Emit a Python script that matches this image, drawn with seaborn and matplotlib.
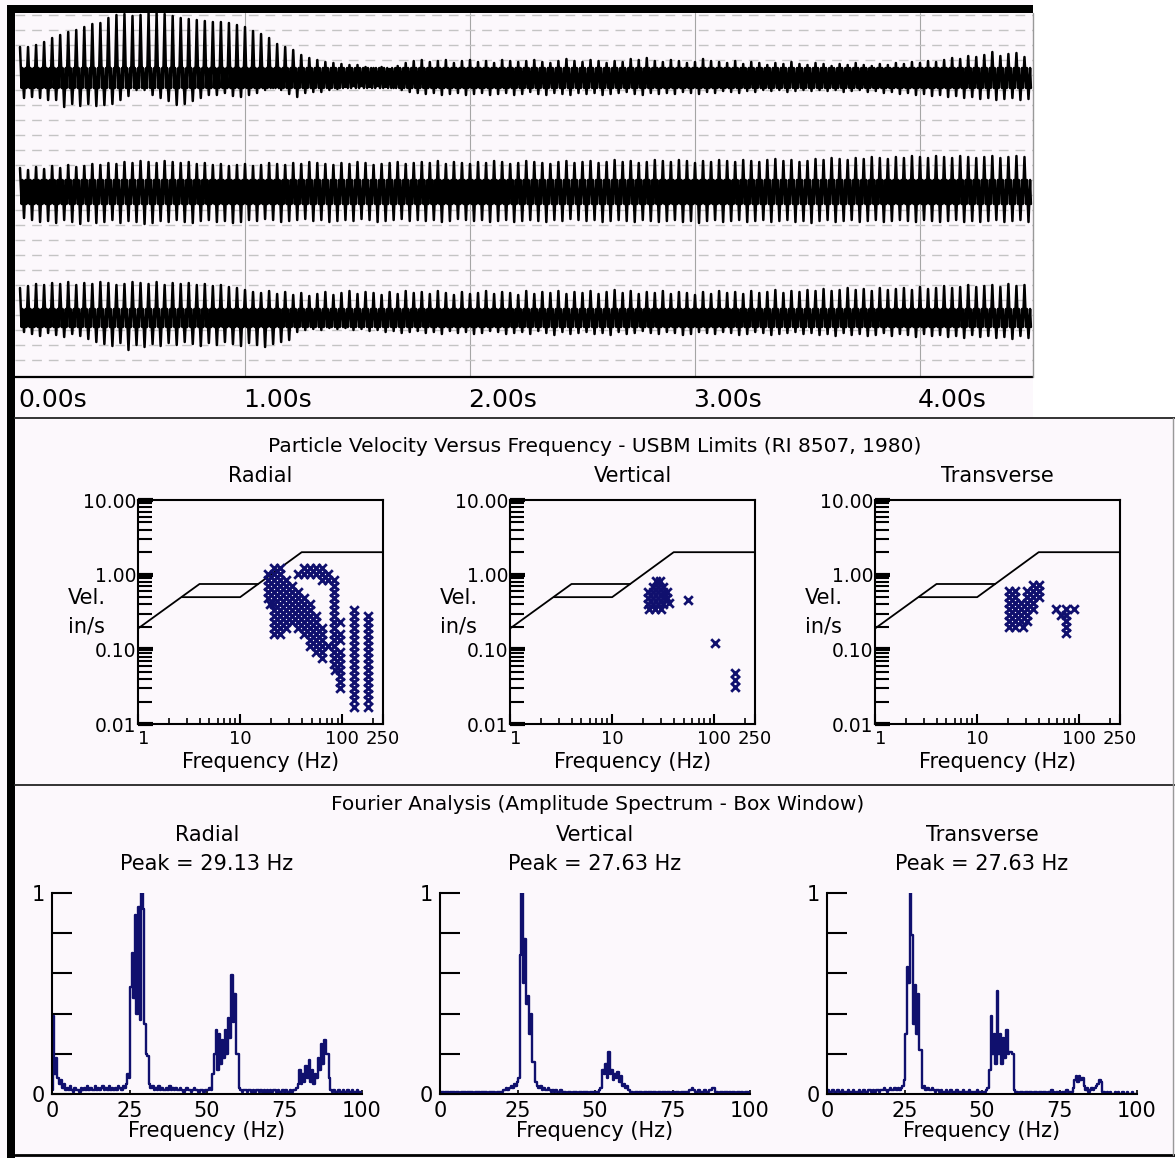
import numpy as np
import seaborn as sns
import matplotlib.pyplot as plt
from matplotlib.lines import Line2D
from matplotlib.patches import Rectangle
from matplotlib.ticker import NullFormatter

W, H = 1175, 1158
BG = '#fcf8fc'
NAVY = '#10106e'

# ---------------- seismograph (offsets in px from each trace centre) -------------
TIME_LABELS = ['0.00s', '1.00s', '2.00s', '3.00s', '4.00s']
SECONDS = [0, 1, 2, 3, 4]

TRACE1_UP = [31, 31, 33, 36, 40, 43, 46, 48, 51, 54,
             55, 60, 63, 64, 62, 63, 65, 65, 64, 62,
             60, 59, 58, 57, 56, 56, 55, 53, 51, 47,
             44, 40, 34, 31, 28, 23, 20, 18, 16, 15,
             14, 13, 13, 11, 10, 11, 9, 12, 15, 17,
             18, 16, 17, 18, 15, 17, 18, 16, 17, 15,
             18, 17, 16, 17, 18, 16, 15, 17, 19, 17,
             16, 18, 17, 15, 17, 16, 19, 18, 20, 17,
             16, 18, 17, 15, 16, 19, 17, 16, 15, 17,
             14, 16, 15, 13, 15, 14, 16, 14, 13, 15,
             14, 12, 14, 13, 15, 13, 12, 14, 13, 15,
             14, 16, 15, 17, 16, 18, 20, 19, 22, 21,
             23, 26, 22, 24, 25, 21]
TRACE1_DN = [20, 19, 20, 22, 22, 29, 26, 28, 26, 28,
             27, 26, 22, 18, 12, 12, 17, 20, 23, 27,
             26, 23, 20, 17, 17, 15, 18, 19, 17, 15,
             12, 10, 12, 16, 19, 15, 14, 14, 12, 11,
             9, 8, 8, 9, 8, 9, 10, 12, 14, 15,
             16, 15, 17, 16, 15, 17, 16, 15, 17, 16,
             15, 17, 16, 14, 16, 17, 15, 16, 17, 15,
             16, 15, 17, 16, 15, 14, 16, 17, 15, 16,
             15, 16, 14, 15, 16, 14, 15, 13, 14, 15,
             13, 14, 12, 13, 12, 14, 13, 12, 13, 12,
             13, 12, 14, 13, 12, 14, 13, 15, 14, 16,
             15, 17, 16, 18, 17, 19, 18, 20, 19, 21,
             20, 22, 21, 20, 22, 21]
TRACE2_UP = [24, 22, 25, 23, 26, 24, 27, 25, 26, 28,
             27, 29, 28, 30, 29, 31, 30, 29, 31, 30,
             29, 30, 28, 29, 27, 28, 26, 27, 28, 26,
             27, 29, 28, 27, 29, 28, 30, 29, 28, 27,
             29, 28, 30, 29, 27, 28, 29, 30, 28, 29,
             30, 29, 31, 28, 30, 29, 28, 30, 29, 31,
             30, 28, 29, 31, 30, 29, 28, 30, 31, 29,
             30, 31, 29, 30, 32, 30, 31, 29, 30, 32,
             31, 30, 32, 31, 29, 31, 30, 32, 31, 30,
             32, 31, 30, 32, 33, 31, 32, 30, 31, 33,
             32, 34, 33, 32, 34, 33, 35, 34, 33, 35,
             34, 36, 35, 34, 36, 35, 34, 36, 35, 34,
             35, 36, 34, 35, 36, 35]
TRACE2_DN = [26, 28, 30, 29, 31, 28, 30, 32, 29, 31,
             30, 28, 31, 29, 30, 32, 31, 29, 30, 28,
             30, 31, 29, 28, 30, 29, 31, 30, 28, 29,
             27, 28, 30, 29, 28, 27, 29, 28, 30, 29,
             28, 29, 27, 28, 30, 29, 28, 27, 29, 28,
             29, 28, 30, 29, 27, 28, 29, 28, 30, 29,
             28, 30, 29, 28, 29, 30, 28, 29, 27, 28,
             29, 28, 30, 29, 28, 29, 30, 28, 29, 30,
             29, 28, 30, 29, 31, 29, 28, 30, 29, 28,
             30, 29, 28, 30, 29, 28, 30, 29, 31, 29,
             28, 30, 29, 28, 30, 29, 28, 30, 29, 28,
             29, 30, 28, 29, 30, 29, 28, 30, 29, 30,
             29, 28, 30, 29, 28, 30]
TRACE3_UP = [30, 32, 34, 33, 35, 34, 36, 33, 35, 34,
             36, 35, 33, 34, 36, 35, 34, 36, 33, 35,
             34, 35, 33, 34, 32, 33, 31, 30, 28, 26,
             25, 27, 24, 26, 23, 25, 22, 24, 26, 23,
             25, 27, 24, 26, 25, 23, 26, 24, 27, 25,
             26, 24, 27, 25, 23, 26, 24, 25, 27, 24,
             26, 25, 23, 27, 24, 26, 25, 27, 24, 26,
             25, 27, 24, 26, 28, 25, 27, 24, 26, 25,
             27, 24, 26, 25, 23, 26, 24, 27, 25, 26,
             24, 27, 25, 26, 28, 25, 27, 26, 28, 27,
             29, 27, 28, 30, 28, 29, 27, 30, 28, 29,
             30, 28, 31, 29, 30, 32, 30, 31, 33, 31,
             32, 33, 31, 34, 32, 33]
TRACE3_DN = [14, 16, 18, 15, 17, 19, 16, 18, 21, 24,
             26, 28, 25, 32, 27, 29, 26, 28, 25, 27,
             24, 26, 28, 25, 27, 24, 26, 28, 25, 27,
             29, 26, 24, 22, 14, 12, 11, 12, 10, 11,
             10, 12, 11, 13, 12, 14, 13, 15, 14, 13,
             15, 14, 16, 13, 15, 14, 16, 15, 13, 14,
             16, 15, 14, 16, 13, 15, 17, 14, 16, 15,
             14, 16, 15, 17, 14, 16, 15, 13, 15, 16,
             14, 15, 17, 16, 14, 15, 16, 14, 15, 17,
             16, 14, 15, 17, 16, 15, 14, 16, 15, 17,
             16, 18, 15, 17, 16, 18, 17, 15, 18, 16,
             17, 19, 16, 18, 17, 19, 18, 20, 17, 19,
             18, 20, 19, 21, 18, 20]

# ---------------- USBM limit curve (RI 8507) ----------------
LIMIT_UPPER_F = [1, 4, 15, 40, 250]
LIMIT_UPPER_V = [0.19, 0.75, 0.75, 2.0, 2.0]
LIMIT_LOWER_F = [2.7, 10, 15]
LIMIT_LOWER_V = [0.5, 0.5, 0.75]

# ---------------- particle velocity vs frequency points ----------------
RADIAL_LEVELS = [1.23, 1.02, 0.85, 0.705, 0.586, 0.487, 0.405, 0.336, 0.280, 0.232,
                 0.193, 0.160, 0.133, 0.111, 0.092, 0.077, 0.064, 0.053, 0.044, 0.037,
                 0.030, 0.025, 0.021, 0.017]
RADIAL_FREQS = [
    [21.4, 24.5, 42.1, 48.2, 55.2, 63.1],
    [18.7, 21.4, 24.5, 36.8, 42.1, 48.2, 55.2, 63.1, 72.3],
    [18.7, 21.4, 24.5, 28.1, 63.1, 72.3, 82],
    [18.7, 21.4, 24.5, 28.1, 32.1, 82],
    [18.7, 21.4, 24.5, 28.1, 32.1, 36.8, 82],
    [18.7, 21.4, 24.5, 28.1, 32.1, 36.8, 42.1, 82],
    [19.5, 21.4, 24.5, 28.1, 32.1, 36.8, 42.1, 48.2, 82],
    [21.4, 24.5, 28.1, 32.1, 36.8, 42.1, 48.2, 82, 130],
    [21.4, 24.5, 28.1, 32.1, 36.8, 42.1, 48.2, 55.2, 82, 130, 178],
    [21.4, 24.5, 28.1, 32.1, 36.8, 42.1, 48.2, 55.2, 82, 95, 130, 178],
    [21.4, 24.5, 28.1, 36.8, 42.1, 48.2, 55.2, 63.1, 82, 130, 178],
    [21.4, 24.5, 42.1, 48.2, 55.2, 63.1, 82, 95, 130, 178],
    [48.2, 55.2, 63.1, 82, 95, 130, 178],
    [48.2, 55.2, 63.1, 72.3, 82, 130, 178],
    [55.2, 63.1, 82, 95, 130, 178],
    [63.1, 82, 95, 130, 178],
    [82, 95, 130, 178],
    [85, 95, 130, 178],
    [95, 130, 178],
    [95, 130, 178],
    [95, 130, 178],
    [130, 178],
    [130, 178],
    [130, 178],
]
VERTICAL_LEVELS = [0.81, 0.68, 0.58, 0.49, 0.46, 0.42, 0.41, 0.345, 0.12, 0.048, 0.039, 0.031]
VERTICAL_FREQS = [
    [27, 29.5],
    [25.2, 28.3, 31.6],
    [22.5, 25.2, 28.3, 31.6, 34.7],
    [22.5, 25.2, 28.3, 31.6, 34.7],
    [55.5],
    [36.3],
    [22.5, 25.2, 28.3, 31.6],
    [23, 26.5, 30],
    [101.6],
    [160],
    [160],
    [160],
]
TRANSVERSE_LEVELS = [0.727, 0.604, 0.502, 0.418, 0.347, 0.288, 0.240, 0.199, 0.166]
TRANSVERSE_FREQS = [
    [35.2, 40.3],
    [20.5, 23.4, 30.7, 35.2, 40.3],
    [20.5, 23.4, 30.7, 35.2, 40.3],
    [20.5, 23.4, 26.8, 30.7, 35.2],
    [20.5, 23.4, 26.8, 30.7, 35.2, 59, 73.9, 88.5],
    [20.5, 23.4, 26.8, 30.7, 66, 73.9],
    [20.5, 23.4, 26.8, 30.7, 73.9],
    [20.5, 23.4, 28, 73.9],
    [73.9],
]

# ---------------- amplitude spectra, 0.5 Hz bins from 0 to 100 Hz ----------------
SPEC_RADIAL = [
    0.02, 0.39, 0.10, 0.18, 0.08, 0.05, 0.07, 0.03, 0.05, 0.02, 0.03, 0.02, 0.04, 0.02, 0.01, 0.03, 0.02, 0.02, 0.01, 0.03,
    0.02, 0.03, 0.02, 0.04, 0.02, 0.03, 0.02, 0.02, 0.04, 0.02, 0.03, 0.02, 0.03, 0.04, 0.02, 0.03, 0.02, 0.04, 0.02, 0.03,
    0.02, 0.03, 0.02, 0.04, 0.03, 0.02, 0.04, 0.03, 0.05, 0.10, 0.08, 0.53, 0.70, 0.48, 0.89, 0.40, 0.93, 0.37, 1.00, 0.92,
    0.35, 0.20, 0.19, 0.05, 0.03, 0.04, 0.02, 0.03, 0.02, 0.04, 0.02, 0.03, 0.02, 0.02, 0.03, 0.02, 0.04, 0.02, 0.03, 0.02,
    0.03, 0.02, 0.02, 0.03, 0.02, 0.01, 0.02, 0.03, 0.02, 0.02, 0.01, 0.02, 0.03, 0.02, 0.02, 0.01, 0.02, 0.02, 0.01, 0.02,
    0.02, 0.02, 0.03, 0.02, 0.10, 0.20, 0.32, 0.12, 0.30, 0.15, 0.27, 0.18, 0.32, 0.20, 0.38, 0.28, 0.59, 0.36, 0.50, 0.20,
    0.20, 0.03, 0.02, 0.01, 0.02, 0.02, 0.01, 0.02, 0.02, 0.01, 0.02, 0.01, 0.02, 0.02, 0.01, 0.02, 0.01, 0.02, 0.01, 0.02,
    0.01, 0.02, 0.01, 0.02, 0.02, 0.01, 0.02, 0.01, 0.01, 0.02, 0.01, 0.02, 0.01, 0.01, 0.02, 0.01, 0.02, 0.02, 0.03, 0.05,
    0.12, 0.05, 0.10, 0.06, 0.14, 0.08, 0.17, 0.06, 0.12, 0.05, 0.10, 0.08, 0.18, 0.12, 0.25, 0.15, 0.27, 0.20, 0.20, 0.08,
    0.02, 0.01, 0.02, 0.01, 0.01, 0.02, 0.01, 0.01, 0.02, 0.01, 0.01, 0.02, 0.01, 0.01, 0.02, 0.01, 0.01, 0.02, 0.01, 0.01,
    0.01]
SPEC_VERTICAL = [
    0.01, 0.01, 0.01, 0.00, 0.01, 0.01, 0.00, 0.01, 0.01, 0.01, 0.00, 0.01, 0.01, 0.00, 0.01, 0.01, 0.01, 0.00, 0.01, 0.01,
    0.01, 0.01, 0.00, 0.01, 0.01, 0.01, 0.00, 0.01, 0.01, 0.01, 0.01, 0.00, 0.01, 0.01, 0.01, 0.01, 0.00, 0.01, 0.01, 0.01,
    0.01, 0.02, 0.02, 0.03, 0.02, 0.03, 0.04, 0.03, 0.05, 0.04, 0.06, 0.08, 0.69, 1.00, 0.55, 0.77, 0.45, 0.49, 0.30, 0.40,
    0.16, 0.16, 0.06, 0.04, 0.03, 0.04, 0.02, 0.03, 0.02, 0.02, 0.03, 0.02, 0.01, 0.02, 0.01, 0.02, 0.01, 0.01, 0.02, 0.01,
    0.01, 0.01, 0.00, 0.01, 0.01, 0.00, 0.01, 0.01, 0.01, 0.00, 0.01, 0.01, 0.00, 0.01, 0.01, 0.01, 0.00, 0.01, 0.01, 0.01,
    0.01, 0.01, 0.01, 0.02, 0.03, 0.12, 0.10, 0.15, 0.08, 0.21, 0.10, 0.12, 0.07, 0.10, 0.08, 0.11, 0.06, 0.09, 0.04, 0.05,
    0.03, 0.04, 0.02, 0.01, 0.01, 0.00, 0.01, 0.01, 0.00, 0.01, 0.01, 0.00, 0.01, 0.01, 0.00, 0.01, 0.01, 0.00, 0.01, 0.01,
    0.00, 0.01, 0.01, 0.00, 0.01, 0.01, 0.00, 0.01, 0.01, 0.00, 0.01, 0.01, 0.00, 0.01, 0.01, 0.00, 0.01, 0.01, 0.01, 0.01,
    0.01, 0.02, 0.02, 0.03, 0.02, 0.01, 0.01, 0.02, 0.01, 0.01, 0.01, 0.02, 0.01, 0.01, 0.02, 0.02, 0.03, 0.03, 0.01, 0.01,
    0.00, 0.01, 0.01, 0.00, 0.01, 0.01, 0.00, 0.01, 0.00, 0.01, 0.01, 0.00, 0.01, 0.01, 0.00, 0.01, 0.00, 0.01, 0.01, 0.00,
    0.01]
SPEC_TRANSVERSE = [
    0.01, 0.02, 0.01, 0.01, 0.02, 0.01, 0.01, 0.02, 0.01, 0.01, 0.02, 0.01, 0.01, 0.01, 0.02, 0.01, 0.01, 0.02, 0.01, 0.01,
    0.01, 0.02, 0.01, 0.01, 0.02, 0.01, 0.01, 0.02, 0.02, 0.01, 0.02, 0.01, 0.02, 0.02, 0.01, 0.02, 0.02, 0.03, 0.02, 0.01,
    0.02, 0.03, 0.02, 0.02, 0.03, 0.02, 0.03, 0.02, 0.03, 0.04, 0.07, 0.30, 0.63, 0.55, 1.00, 0.79, 0.35, 0.54, 0.30, 0.50,
    0.22, 0.22, 0.03, 0.04, 0.02, 0.03, 0.02, 0.02, 0.03, 0.02, 0.01, 0.02, 0.02, 0.01, 0.02, 0.01, 0.01, 0.02, 0.01, 0.01,
    0.02, 0.01, 0.01, 0.01, 0.02, 0.01, 0.01, 0.01, 0.02, 0.01, 0.01, 0.01, 0.02, 0.01, 0.01, 0.01, 0.01, 0.02, 0.01, 0.01,
    0.01, 0.01, 0.01, 0.02, 0.03, 0.12, 0.39, 0.20, 0.30, 0.15, 0.51, 0.20, 0.30, 0.15, 0.28, 0.18, 0.32, 0.20, 0.21, 0.21,
    0.20, 0.02, 0.01, 0.01, 0.00, 0.01, 0.01, 0.00, 0.01, 0.01, 0.00, 0.01, 0.01, 0.00, 0.01, 0.01, 0.00, 0.01, 0.01, 0.00,
    0.01, 0.01, 0.00, 0.01, 0.01, 0.02, 0.01, 0.00, 0.01, 0.01, 0.01, 0.00, 0.01, 0.01, 0.01, 0.02, 0.01, 0.01, 0.01, 0.03,
    0.07, 0.09, 0.06, 0.09, 0.07, 0.08, 0.04, 0.02, 0.03, 0.01, 0.02, 0.03, 0.02, 0.03, 0.04, 0.05, 0.07, 0.06, 0.01, 0.01,
    0.00, 0.01, 0.00, 0.01, 0.00, 0.00, 0.01, 0.00, 0.01, 0.00, 0.00, 0.01, 0.00, 0.00, 0.01, 0.00, 0.00, 0.01, 0.00, 0.00,
    0.00]
SPEC_FREQ = np.arange(len(SPEC_RADIAL)) * 0.5

PEAKS = ['29.13', '27.63', '27.63']

# ---------------------------------------------------------------------------
sns.set_style('white')
plt.rcParams['font.family'] = ['DejaVu Sans']
plt.rcParams['text.color'] = 'black'
plt.rcParams['xtick.color'] = 'black'
plt.rcParams['ytick.color'] = 'black'
plt.rcParams['xtick.bottom'] = True
plt.rcParams['ytick.left'] = True

fig = plt.figure(figsize=(W / 100, H / 100), dpi=100, facecolor=BG)


def box(x0, y0, x1, y1):
    a = fig.add_axes([x0 / W, 1 - y1 / H, (x1 - x0) / W, (y1 - y0) / H])
    a.set_facecolor('none')
    return a


def ftext(x, y, s, size=15, ha='center'):
    fig.text(x / W, 1 - y / H, s, ha=ha, va='center', fontsize=size)


def fline(x0, y0, x1, y1, lw=1.5, color='black'):
    fig.add_artist(Line2D([x0 / W, x1 / W], [1 - y0 / H, 1 - y1 / H], lw=lw,
                          color=color, transform=fig.transFigure))


def frect(x0, y0, x1, y1, color):
    fig.add_artist(Rectangle((x0 / W, 1 - y1 / H), (x1 - x0) / W, (y1 - y0) / H,
                             transform=fig.transFigure, facecolor=color,
                             edgecolor='none', zorder=0))


# frame pieces
frect(1033, 0, W, 418, 'white')
frect(7, 5, 15, H, 'black')
frect(7, 5, 1033, 13, 'black')
fline(15, 377, 1033, 377, lw=1.6)
fline(1033, 13, 1033, 377, lw=1.0, color='#999999')
fline(15, 418, W, 418, lw=1.4, color='#333333')
fline(15, 785, W, 785, lw=1.4, color='#333333')
fline(15, 1155, W, 1155, lw=2.0)
fline(1173, 418, 1173, 1155, lw=1.0, color='#999999')

# ---------------- seismograph ----------------
X0_PX, PX_PER_S = 20, 225
CYCLE = 4.5 / len(TRACE1_UP)
PHASE = [0.0, 0.2, 0.3, 0.5, 0.7, 0.8]


def trace_xy(base, up, dn, band):
    xs, ys = [], []
    for i, (u, d) in enumerate(zip(up, dn)):
        t = i * CYCLE
        lv = [base - u, base + band, base - band, base + d, base - band, base + band]
        for p, y in zip(PHASE, lv):
            xs.append(t + p * CYCLE)
            ys.append(y)
    return np.array(xs), np.array(ys)


ax = box(15, 13, 1033, 377)
ax.set_xlim((15 - X0_PX) / PX_PER_S, (1033 - X0_PX) / PX_PER_S)
ax.set_ylim(377, 13)
for s in SECONDS[1:]:
    ax.axvline(s, color='#a5a5a5', lw=0.8, zorder=1)
for y in range(15, 370, 15):
    ax.axhline(y, color='#c4c4c4', lw=1.0, dashes=(7, 5), zorder=1)
for base, up, dn, band in [(78, TRACE1_UP, TRACE1_DN, 10),
                           (192, TRACE2_UP, TRACE2_DN, 12),
                           (318, TRACE3_UP, TRACE3_DN, 9)]:
    tx, ty = trace_xy(base, up, dn, band)
    sns.lineplot(x=tx, y=ty, sort=False, estimator=None, color='black', lw=1.8, ax=ax, zorder=2)
ax.set_xticks([])
ax.set_yticks([])
for sp in ax.spines.values():
    sp.set_visible(False)
for s, lab in zip(SECONDS, TIME_LABELS):
    ftext(X0_PX - 2 + PX_PER_S * s, 400, lab, size=18, ha='left')

# ---------------- particle velocity vs frequency ----------------
ftext(595, 446, 'Particle Velocity Versus Frequency - USBM Limits (RI 8507, 1980)', size=14.5)

MINOR_X = [m * d for d in (1, 10) for m in range(2, 10)] + [200]
MINOR_Y = [m * d for d in (0.01, 0.1, 1) for m in range(2, 10)]

for name, x0, levels, freqs in [('Radial', 138, RADIAL_LEVELS, RADIAL_FREQS),
                                ('Vertical', 510, VERTICAL_LEVELS, VERTICAL_FREQS),
                                ('Transverse', 875, TRANSVERSE_LEVELS, TRANSVERSE_FREQS)]:
    x1 = x0 + 245
    ax = box(x0, 500, x1, 724)
    ax.set_xscale('log')
    ax.set_yscale('log')
    fx = [f for row in freqs for f in row]
    fv = [v for row, v in zip(freqs, levels) for _ in row]
    sns.lineplot(x=LIMIT_UPPER_F, y=LIMIT_UPPER_V, sort=False, estimator=None,
                 color='black', lw=1.3, ax=ax)
    sns.lineplot(x=LIMIT_LOWER_F, y=LIMIT_LOWER_V, sort=False, estimator=None,
                 color='black', lw=1.3, ax=ax)
    sns.scatterplot(x=fx, y=fv, marker='x', s=38, color=NAVY, linewidth=2.0, ax=ax, zorder=3)
    ax.set_xlim(1, 250)
    ax.set_ylim(0.01, 10)
    ax.set_xticks([1, 10, 100, 250], ['1', '10', '100', '250'])
    ax.set_xticks(MINOR_X, minor=True)
    ax.set_yticks([0.01, 0.1, 1, 10], ['0.01', '0.10', '1.00', '10.00'])
    ax.set_yticks(MINOR_Y, minor=True)
    ax.xaxis.set_minor_formatter(NullFormatter())
    ax.yaxis.set_minor_formatter(NullFormatter())
    ax.get_xticklabels()[0].set_horizontalalignment('left')
    ax.tick_params(axis='y', which='major', direction='in', left=True, length=11, width=3,
                   labelsize=13.5, pad=1)
    ax.tick_params(axis='y', which='minor', direction='in', left=True, length=10, width=1.5)
    ax.tick_params(axis='x', which='major', direction='in', bottom=True, length=7, width=1.5,
                   labelsize=13, pad=4)
    ax.tick_params(axis='x', which='minor', direction='in', bottom=True, length=4.5, width=1.2)
    for sp in ax.spines.values():
        sp.set_color('black')
        sp.set_linewidth(1.5)
    ax.set_xlabel('')
    ax.set_ylabel('')
    cx = (x0 + x1) / 2
    ftext(cx, 476, name)
    ftext(cx, 762, 'Frequency (Hz)')
    ftext(x0 - 70, 598, 'Vel.', ha='left')
    ftext(x0 - 70, 627, 'in/s', ha='left')

# ---------------- Fourier spectra ----------------
ftext(598, 805, 'Fourier Analysis (Amplitude Spectrum - Box Window)', size=14.5)

for name, peak, x0, amps in [('Radial', PEAKS[0], 52, SPEC_RADIAL),
                             ('Vertical', PEAKS[1], 440, SPEC_VERTICAL),
                             ('Transverse', PEAKS[2], 827, SPEC_TRANSVERSE)]:
    x1 = x0 + 310
    ax = box(x0, 893, x1, 1094)
    sns.lineplot(x=SPEC_FREQ, y=amps, estimator=None, drawstyle='steps-mid',
                 color=NAVY, lw=1.7, ax=ax)
    ax.set_xlim(0, 100)
    ax.set_ylim(0, 1)
    ax.set_yticks([0, 0.2, 0.4, 0.6, 0.8, 1.0], ['0', '', '', '', '', '1'])
    ax.set_xticks([0, 25, 50, 75, 100], ['0', '25', '50', '75', '100'])
    ax.tick_params(axis='y', direction='in', left=True, length=14.4, width=1.5,
                   labelsize=15, pad=5)
    ax.tick_params(axis='x', direction='in', bottom=True, length=3, width=1.2,
                   labelsize=15, pad=5)
    for side in ['top', 'right']:
        ax.spines[side].set_visible(False)
    for side in ['left', 'bottom']:
        ax.spines[side].set_color('black')
        ax.spines[side].set_linewidth(1.5)
    ax.set_xlabel('')
    ax.set_ylabel('')
    cx = (x0 + x1) / 2
    ftext(cx, 835, name)
    ftext(cx, 864, 'Peak = ' + peak + ' Hz')
    ftext(cx, 1131, 'Frequency (Hz)')

fig.savefig('out.png', dpi=100, facecolor=BG)
